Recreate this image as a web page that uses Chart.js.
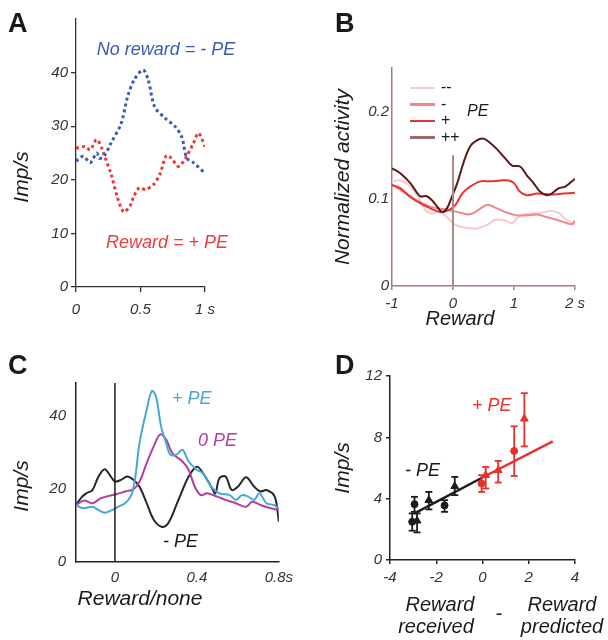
<!DOCTYPE html>
<html>
<head>
<meta charset="utf-8">
<script src="https://cdn.jsdelivr.net/npm/chart.js@4.4.1/dist/chart.umd.min.js"></script>
<style>
  html, body { margin: 0; padding: 0; background: #fff; }
  #fig { position: relative; width: 608px; height: 640px; overflow: hidden; font-family: 'Liberation Sans', Arial, sans-serif; color: #1a1a1a; }
  #fig canvas { position: absolute; }
  .t { position: absolute; line-height: 1; white-space: nowrap; font-style: italic; }
</style>
</head>
<body>
<div id="fig">
  <canvas id="chartA" width="300" height="330" style="left:0;top:0"></canvas>
  <canvas id="chartB" width="308" height="335" style="left:300px;top:0"></canvas>
  <canvas id="chartC" width="300" height="310" style="left:0;top:330px"></canvas>
  <canvas id="chartD" width="308" height="310" style="left:300px;top:330px"></canvas>
</div>
<script>
// ---- A: no reward vs reward (imp/s over 1 s) ----
const aNoRewardT = [0, 0.057, 0.11, 0.16, 0.18, 0.22, 0.27, 0.35, 0.40, 0.45, 0.52, 0.56, 0.61, 0.69, 0.77, 0.82, 0.86, 0.91, 1.0];
const aNoRewardV = [23.5, 24.4, 23.2, 25, 24, 24.5, 26.8, 30.5, 35.5, 38.6, 40.5, 38.6, 33.6, 31.5, 29.9, 28, 24, 23.2, 21.2];
const aRewardT = [0, 0.07, 0.11, 0.16, 0.20, 0.22, 0.27, 0.32, 0.37, 0.42, 0.45, 0.49, 0.54, 0.60, 0.65, 0.70, 0.74, 0.79, 0.82, 0.86, 0.91, 0.95, 1.0];
const aRewardV = [25.9, 26.2, 25.6, 27.5, 25.9, 24.5, 21.2, 16.8, 14, 15.2, 17, 18.5, 18.2, 19.1, 21, 24.5, 24, 22.5, 23, 24.5, 26.8, 28.7, 26.2];
const aXTicks = [0, 0.5, 1];
const aXLabels = ['0', '0.5', '1 s'];
const aYTicks = [0, 10, 20, 30, 40];
const aYLabels = ['0', '10', '20', '30', '40'];

// ---- B: normalized activity by PE level ----
const bPlusPlusT = [-1, -0.86, -0.70, -0.54, -0.43, -0.34, -0.26, -0.18, -0.10, -0.02, 0.07, 0.17, 0.28, 0.39, 0.50, 0.61, 0.72, 0.86, 0.97, 1.10, 1.21, 1.32, 1.43, 1.54, 1.62, 1.73, 1.84, 2.0];
const bPlusPlusV = [0.135, 0.129, 0.118, 0.103, 0.103, 0.098, 0.091, 0.085, 0.089, 0.102, 0.118, 0.141, 0.160, 0.167, 0.169, 0.164, 0.157, 0.146, 0.138, 0.137, 0.127, 0.118, 0.108, 0.104, 0.106, 0.112, 0.114, 0.123];
const bPlusT = [-1, -0.86, -0.70, -0.54, -0.37, -0.21, -0.07, 0.04, 0.15, 0.28, 0.45, 0.61, 0.78, 0.91, 1.0, 1.10, 1.21, 1.38, 1.60, 1.81, 2.0];
const bPlusV = [0.116, 0.112, 0.102, 0.095, 0.089, 0.085, 0.087, 0.093, 0.106, 0.114, 0.120, 0.120, 0.121, 0.121, 0.118, 0.108, 0.104, 0.106, 0.105, 0.106, 0.107];
const bMinusT = [-1, -0.81, -0.59, -0.37, -0.15, 0.07, 0.26, 0.37, 0.56, 0.72, 0.89, 1.05, 1.21, 1.38, 1.54, 1.70, 1.87, 1.95, 2.0];
const bMinusV = [0.116, 0.108, 0.098, 0.091, 0.088, 0.085, 0.082, 0.085, 0.093, 0.089, 0.084, 0.081, 0.081, 0.082, 0.079, 0.076, 0.072, 0.071, 0.075];
const bMinusMinusT = [-1, -0.86, -0.70, -0.54, -0.43, -0.34, -0.23, -0.10, 0.04, 0.20, 0.39, 0.56, 0.69, 0.86, 0.97, 1.10, 1.27, 1.43, 1.60, 1.73, 1.84, 2.0];
const bMinusMinusV = [0.120, 0.121, 0.114, 0.098, 0.085, 0.083, 0.085, 0.079, 0.070, 0.067, 0.066, 0.070, 0.076, 0.075, 0.072, 0.081, 0.083, 0.084, 0.086, 0.084, 0.077, 0.070];
const bRewardMarkT = [0, 0];
const bRewardMarkV = [0, 0.15];
const bXTicks = [-1, 0, 1, 2];
const bXLabels = ['-1', '0', '1', '2 s'];
const bYTicks = [0, 0.1, 0.2];
const bYLabels = ['0', '0.1', '0.2'];

// ---- C: +PE / 0 PE / -PE responses ----
const cNegT = [-0.19, -0.16, -0.14, -0.11, -0.08, -0.05, -0.02, 0, 0.03, 0.06, 0.09, 0.12, 0.155, 0.19, 0.23, 0.26, 0.31, 0.36, 0.40, 0.43, 0.47, 0.49, 0.51, 0.54, 0.57, 0.60, 0.64, 0.68, 0.71, 0.74, 0.78, 0.80];
const cNegV = [15.6, 17.9, 18.8, 19.7, 23.4, 25.4, 23.4, 22.0, 22.5, 23.4, 22.5, 20.6, 16.1, 11.5, 9.6, 10.6, 17.0, 23.4, 26.1, 24.3, 20.6, 18.8, 22.9, 23.4, 19.7, 20.6, 23.2, 20.6, 19.3, 19.7, 17.9, 11.0];
const cPosT = [-0.19, -0.155, -0.11, -0.08, -0.05, -0.015, 0.015, 0.05, 0.08, 0.10, 0.12, 0.155, 0.18, 0.20, 0.225, 0.25, 0.27, 0.30, 0.33, 0.36, 0.40, 0.43, 0.47, 0.51, 0.56, 0.59, 0.62, 0.65, 0.68, 0.705, 0.74, 0.775, 0.80];
const cPosV = [15.6, 14.7, 15.1, 14.2, 13.5, 14.2, 15.1, 16.1, 18.3, 23.4, 32.6, 41.7, 46.8, 45.4, 37.2, 32.6, 29.4, 29.4, 30.7, 27.5, 25.2, 24.3, 20.6, 18.8, 18.3, 17.0, 18.3, 17.9, 17.0, 18.8, 16.1, 15.6, 14.7];
const cZeroT = [-0.19, -0.15, -0.11, -0.07, -0.03, 0.01, 0.05, 0.09, 0.12, 0.155, 0.19, 0.22, 0.25, 0.28, 0.33, 0.36, 0.39, 0.42, 0.45, 0.50, 0.54, 0.59, 0.64, 0.67, 0.71, 0.76, 0.80];
const cZeroV = [15.6, 16.8, 16.1, 17.4, 18.1, 18.6, 19.3, 19.9, 22.0, 27.1, 31.7, 34.9, 33.5, 29.8, 27.5, 25.2, 20.6, 18.3, 18.8, 17.9, 17.0, 16.1, 15.1, 16.5, 15.6, 14.7, 14.2];
const cRewardMarkT = [0, 0];
const cRewardMarkV = [0, 49];
const cXTicks = [0, 0.4, 0.8];
const cXLabels = ['0', '0.4', '0.8s'];
const cYTicks = [0, 20, 40];
const cYLabels = ['0', '20', '40'];

// ---- D: imp/s vs (received - predicted) ----
const dNegCircleX = [-2.94, -3.04, -1.64];
const dNegCircleY = [3.64, 2.49, 3.56];
const dNegCircleLo = [3.14, 1.91, 3.14];
const dNegCircleHi = [4.12, 3.04, 3.9];
const dNegTriX = [-2.83, -2.32, -1.2];
const dNegTriY = [2.56, 3.9, 4.81];
const dNegTriLo = [1.8, 3.3, 4.23];
const dNegTriHi = [3.04, 4.44, 5.42];
const dPosCircleX = [-0.04, 1.37];
const dPosCircleY = [4.99, 7.11];
const dPosCircleLo = [4.44, 5.48];
const dPosCircleHi = [5.53, 8.72];
const dPosTriX = [0.14, 0.68, 1.81];
const dPosTriY = [5.53, 5.85, 9.21];
const dPosTriLo = [4.66, 5.05, 7.41];
const dPosTriHi = [6.07, 6.46, 10.88];
const dFitNegX = [-2.94, 0];
const dFitNegY = [3.04, 5.38];
const dFitPosX = [0, 3.04];
const dFitPosY = [5.38, 7.74];
const dXTicks = [-4, -2, 0, 2, 4];
const dXLabels = ['-4', '-2', '0', '2', '4'];
const dYTicks = [0, 4, 8, 12];
const dYLabels = ['0', '4', '8', '12'];

const FONT = "'Liberation Sans', Arial, sans-serif";
const tickFont = { family: FONT, size: 15, style: 'italic' };

function pts(xs, ys) {
  return xs.map((x, i) => ({ x, y: ys[i] }));
}

function errorBars(xs, lo, hi) {
  const out = [];
  xs.forEach((x, i) => out.push({ x, y: lo[i] }, { x, y: hi[i] }, { x, y: null }));
  return out;
}

function axis(o) {
  return {
    type: 'linear',
    min: o.min,
    max: o.max,
    afterFit: s => { if (o.w) s.width = o.w; if (o.h) s.height = o.h; },
    afterBuildTicks: s => { s.ticks = o.ticks.map(v => ({ value: v })); },
    grid: {
      display: o.tickLen > 0, drawOnChartArea: false, drawTicks: o.tickLen > 0,
      tickLength: o.tickLen, color: o.color, lineWidth: o.lw
    },
    border: { display: true, color: o.color, width: o.lw },
    ticks: {
      autoSkip: false, maxRotation: 0, padding: o.pad, color: '#333', font: tickFont,
      callback: (v, i) => o.labels[i]
    },
    title: o.title || { display: false }
  };
}

// smooth traces use plain bezier tension, straight segments pass tension 0
function line(xs, ys, color, width, extra) {
  return Object.assign({
    data: pts(xs, ys), showLine: true, borderColor: color, borderWidth: width,
    pointRadius: 0, tension: 0.35, fill: false
  }, extra || {});
}

const baseOpts = {
  animation: false,
  responsive: false,
  plugins: { legend: { display: false }, tooltip: { enabled: false } }
};

// A
new Chart(document.getElementById('chartA'), {
  type: 'scatter',
  data: {
    datasets: [
      line(aNoRewardT, aNoRewardV, '#3a5aae', 3, { borderDash: [3, 3], tension: 0.3 }),
      line(aRewardT, aRewardV, '#ee3636', 3, { borderDash: [3, 3], tension: 0.3 })
    ]
  },
  options: Object.assign({}, baseOpts, {
    layout: { padding: { left: 0, right: 95, top: 19, bottom: 0 } },
    scales: {
      x: axis({ min: 0, max: 1, h: 43, ticks: aXTicks, labels: aXLabels, tickLen: 5, pad: 9, color: '#333', lw: 1.3 }),
      y: axis({ min: 0, max: 50, w: 76, ticks: aYTicks, labels: aYLabels, tickLen: 5, pad: 3, color: '#333', lw: 1.3 })
    }
  })
});

// B
new Chart(document.getElementById('chartB'), {
  type: 'scatter',
  data: {
    datasets: [
      line(bRewardMarkT, bRewardMarkV, '#a88a8a', 2, { tension: 0 }),
      line(bPlusPlusT, bPlusPlusV, '#5a1818', 2),
      line(bPlusT, bPlusV, '#e63434', 2),
      line(bMinusT, bMinusV, '#f08686', 2),
      line(bMinusMinusT, bMinusMinusV, '#f8caca', 2)
    ]
  },
  options: Object.assign({}, baseOpts, {
    layout: { padding: { left: 0, right: 33, top: 68, bottom: 0 } },
    scales: {
      x: axis({ min: -1, max: 2, h: 49, ticks: bXTicks, labels: bXLabels, tickLen: 4, pad: 5, color: '#a87a7a', lw: 1.5 }),
      y: axis({
        min: 0, max: 0.25, w: 92, ticks: bYTicks, labels: bYLabels, tickLen: 0, pad: 3, color: '#a87a7a', lw: 1.5,
        title: { display: true, text: 'Normalized activity', color: '#1a1a1a', font: { family: FONT, size: 21, style: 'italic' }, padding: { top: 31, bottom: 0 } }
      })
    }
  })
});

// C
new Chart(document.getElementById('chartC'), {
  type: 'scatter',
  data: {
    datasets: [
      line(cRewardMarkT, cRewardMarkV, '#1a1a1a', 1.5, { tension: 0 }),
      line(cPosT, cPosV, '#45a8d6', 2),
      line(cZeroT, cZeroV, '#b23f9e', 2),
      line(cNegT, cNegV, '#262626', 2)
    ]
  },
  options: Object.assign({}, baseOpts, {
    layout: { padding: { left: 0, right: 12, top: 53, bottom: 0 } },
    scales: {
      x: axis({ min: -0.19, max: 0.8, h: 78, ticks: cXTicks, labels: cXLabels, tickLen: 0, pad: 7, color: '#222', lw: 1.5 }),
      y: axis({ min: 0, max: 49, w: 76, ticks: cYTicks, labels: cYLabels, tickLen: 0, pad: 10, color: '#222', lw: 1.5 })
    }
  })
});

// D
const dRed = '#e8302c';
const dBlack = '#1c1c1c';
function marks(xs, ys, color, style, r) {
  return { data: pts(xs, ys), pointStyle: style, pointRadius: r, backgroundColor: color, borderColor: color, borderWidth: 1, showLine: false };
}
function bars(xs, lo, hi, color) {
  return {
    data: errorBars(xs, lo, hi), showLine: true, spanGaps: false, borderColor: color, borderWidth: 1.8,
    pointStyle: 'line', pointRadius: 3.5, pointBorderColor: color, pointBorderWidth: 1.8
  };
}
new Chart(document.getElementById('chartD'), {
  type: 'scatter',
  data: {
    datasets: [
      marks(dNegCircleX, dNegCircleY, dBlack, 'circle', 3.5),
      marks(dNegTriX, dNegTriY, dBlack, 'triangle', 4.5),
      marks(dPosCircleX, dPosCircleY, dRed, 'circle', 3.5),
      marks(dPosTriX, dPosTriY, dRed, 'triangle', 4.5),
      bars(dNegCircleX, dNegCircleLo, dNegCircleHi, dBlack),
      bars(dNegTriX, dNegTriLo, dNegTriHi, dBlack),
      bars(dPosCircleX, dPosCircleLo, dPosCircleHi, dRed),
      bars(dPosTriX, dPosTriLo, dPosTriHi, dRed),
      line(dFitNegX, dFitNegY, dBlack, 2.5, { tension: 0 }),
      line(dFitPosX, dFitPosY, dRed, 2.5, { tension: 0 })
    ]
  },
  options: Object.assign({}, baseOpts, {
    layout: { padding: { left: 0, right: 33, top: 46, bottom: 0 } },
    scales: {
      x: axis({ min: -4, max: 4, h: 80, ticks: dXTicks, labels: dXLabels, tickLen: 4, pad: 5, color: '#222', lw: 1.5 }),
      y: axis({
        min: 0, max: 12, w: 90, ticks: dYTicks, labels: dYLabels, tickLen: 4, pad: 4, color: '#222', lw: 1.5,
        title: { display: true, text: 'Imp/s', color: '#1a1a1a', font: { family: FONT, size: 21, style: 'italic' }, padding: { top: 31, bottom: 0 } }
      })
    }
  })
});

// ---- text overlays ----
const fig = document.getElementById('fig');
function addText(text, x, baseline, size, opts) {
  opts = opts || {};
  const el = document.createElement('div');
  el.className = 't';
  el.textContent = text;
  el.style.fontSize = size + 'px';
  el.style.left = x + 'px';
  el.style.top = (baseline - 0.8465 * size) + 'px';
  if (opts.center) el.style.transform = 'translateX(-50%)';
  if (opts.color) el.style.color = opts.color;
  if (opts.bold) { el.style.fontWeight = 'bold'; el.style.fontStyle = 'normal'; }
  if (opts.upright) el.style.fontStyle = 'normal';
  fig.appendChild(el);
}
function addVText(text, cx, cy, size) {
  const el = document.createElement('div');
  el.className = 't';
  el.textContent = text;
  el.style.fontSize = size + 'px';
  el.style.left = cx + 'px';
  el.style.top = cy + 'px';
  el.style.transform = 'translate(-50%, -50%) rotate(-90deg)';
  fig.appendChild(el);
}
function addKey(label, y, color) {
  const el = document.createElement('div');
  el.style.cssText = 'position:absolute;left:410px;width:25px;height:2.5px;background:' + color + ';top:' + (y - 1.25) + 'px';
  fig.appendChild(el);
  addText(label, 441, y + 5, 16, { upright: true });
}

addText('A', 8, 33, 27, { bold: true });
addText('B', 335, 33, 27, { bold: true });
addText('C', 8, 375, 27, { bold: true });
addText('D', 335, 375, 27, { bold: true });

addText('No reward = - PE', 166, 55, 18, { center: true, color: '#3a5cb0' });
addText('Reward = + PE', 167, 248, 18, { center: true, color: '#ee3b3b' });
addVText('Imp/s', 20, 177, 21);

addKey('--', 88, '#f8caca');
addKey('-', 104.5, '#f08686');
addKey('+', 121, '#e63434');
addKey('++', 137.5, '#9c6a6a');
addText('PE', 467, 117, 16);
addText('Reward', 460, 325, 20, { center: true });

addText('+ PE', 172, 404, 18, { color: '#45a8d6' });
addText('0 PE', 198, 446, 18, { color: '#b23f9e' });
addText('- PE', 163, 547, 18);
addVText('Imp/s', 20, 486, 21);
addText('Reward/none', 140, 605, 21, { center: true });

addText('+ PE', 472, 411, 18, { color: dRed });
addText('- PE', 405, 476, 18);
addText('Reward', 440, 611, 20, { center: true });
addText('received', 436, 633, 20, { center: true });
addText('-', 499, 620, 20, { center: true, upright: true });
addText('Reward', 562, 611, 20, { center: true });
addText('predicted', 562, 633, 20, { center: true });
</script>
</body>
</html>
